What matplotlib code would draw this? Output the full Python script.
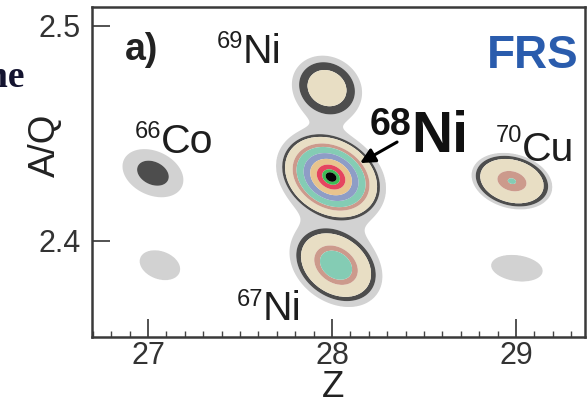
import numpy as np
import matplotlib
matplotlib.use('Agg')
import matplotlib.pyplot as plt
from matplotlib.ticker import MultipleLocator

plt.rcParams['font.family'] = ['Liberation Sans', 'DejaVu Sans']

# blobs (Z, A/Q of the centre)
names = ['66Co', '69Ni', '68Ni', '67Ni', '70Cu', '', '']
z_pos = [27.027, 27.973, 27.995, 28.022, 28.978, 27.065, 29.005]
aq_pos = [2.4315, 2.4711, 2.4297, 2.3887, 2.4278, 2.3887, 2.3873]
# outer (grey halo) semi-axes in pixels and tilt in degrees
semi_a = [32, 36, 58, 50, 41, 21, 26]
semi_b = [22, 31, 44, 37, 27, 14, 13]
tilt = [-25, -30, -30, -35, -15, -20, -8]
# relative radius where each inner colour band starts
rings = [
    [0.52],
    [0.80, 0.56],
    [0.89, 0.84, 0.70, 0.63, 0.50, 0.38, 0.26, 0.16, 0.10],
    [0.86, 0.76, 0.47, 0.35],
    [0.90, 0.79, 0.36, 0.10],
    [],
    [],
]
band_colors = ['#d2d2d2', '#4d4d4d', '#e8dec4', '#cc9a8c', '#84ccb4',
               '#8e9dc6', '#e8c48e', '#e5455f', '#3dbd55', '#050505']

x_ticks = [27, 28, 29]
y_ticks = [2.4, 2.5]


def field(ZZ, QQ, sx, sy, k=1.2, slope=3.0):
    """soft maximum of the band height of every blob"""
    total = np.zeros_like(ZZ)
    for i in range(len(z_pos)):
        du = (ZZ - z_pos[i]) * sx
        dv = (QQ - aq_pos[i]) * sy
        t = np.radians(tilt[i])
        xr = du * np.cos(t) + dv * np.sin(t)
        yr = -du * np.sin(t) + dv * np.cos(t)
        rho = np.hypot(xr / semi_a[i], yr / semi_b[i])
        depth = len(rings[i]) + 1
        xs = [0.0] + rings[i][::-1] + [1.0, 4.0]
        ys = list(range(depth, -1, -1)) + [-3 * slope]
        h = np.interp(rho, xs, ys)
        total += np.exp(k * h)
    return np.log(total) / k


fig = plt.figure(figsize=(5.88, 4.07), dpi=100)
ax = fig.add_axes([0.1565, 0.172, 0.8384, 0.8108])
ax.set_xlim(26.696, 29.375)
ax.set_ylim(2.3553, 2.5088)

bb = ax.get_window_extent()
sx = bb.width / (29.375 - 26.696)
sy = bb.height / (2.5088 - 2.3553)

zg = np.linspace(26.696, 29.375, 900)
qg = np.linspace(2.3553, 2.5088, 650)
ZZ, QQ = np.meshgrid(zg, qg)
F = field(ZZ, QQ, sx, sy)
ax.contourf(ZZ, QQ, F, levels=list(range(10)) + [11], colors=band_colors,
            antialiased=True, zorder=1)

# nuclide labels: (mass, symbol, junction offset px, symbol / mass baseline)
labels = {
    0: ('66', 'Co', 8, 20, 35),
    1: ('69', 'Ni', -84, 25, 40),
    3: ('67', 'Ni', -73, -55, -41),
    4: ('70', 'Cu', 10, 20, 39),
}
for i, (mass, sym, dx, dy_s, dy_m) in labels.items():
    ax.annotate(sym, xy=(z_pos[i], aq_pos[i]), xytext=(dx, dy_s),
                textcoords='offset pixels', ha='left', va='baseline',
                fontsize=29.5, color='#1e1e1e', zorder=5)
    ax.annotate(mass, xy=(z_pos[i], aq_pos[i]), xytext=(dx, dy_m),
                textcoords='offset pixels', ha='right', va='baseline',
                fontsize=17, color='#1e1e1e', zorder=5)

# 68Ni, bold with arrow
ax.annotate('Ni', xy=(z_pos[2], aq_pos[2]), xytext=(80, 25),
            textcoords='offset pixels', ha='left', va='baseline',
            fontsize=41, fontweight='bold', color='#111111', zorder=5)
ax.annotate('68', xy=(z_pos[2], aq_pos[2]), xytext=(80, 42),
            textcoords='offset pixels', ha='right', va='baseline',
            fontsize=27, fontweight='bold', color='#111111', zorder=5)
ax.annotate('', xy=(z_pos[2] + 29 / sx, aq_pos[2] + 14 / sy),
            xytext=(37, 21), textcoords='offset pixels',
            arrowprops=dict(arrowstyle='-|>', color='k', lw=2.2,
                            mutation_scale=22, shrinkA=0, shrinkB=0),
            zorder=6)

ax.text(0.067, 0.839, 'a)', transform=ax.transAxes, fontsize=27,
        fontweight='bold', color='#222222', va='baseline')
ax.text(0.801, 0.815, 'FRS', transform=ax.transAxes, fontsize=33,
        fontweight='bold', color='#2a5cad', va='baseline')

ax.set_xticks(x_ticks)
ax.set_yticks(y_ticks)
ax.xaxis.set_minor_locator(MultipleLocator(0.1))
ax.tick_params(which='major', direction='in', length=13, width=1.3,
               labelsize=22, color='#444444', labelcolor='#333333')
ax.tick_params(axis='x', which='major', pad=3)
ax.tick_params(axis='y', which='major', pad=8)
ax.tick_params(which='minor', direction='in', length=4, width=1.0,
               color='#444444')
ax.tick_params(axis='y', which='minor', left=False)
for sp in ax.spines.values():
    sp.set_linewidth(1.8)
    sp.set_color('#3a3a3a')

ax.set_xlabel('Z', fontsize=26.5, color='#222222')
ax.set_ylabel('A/Q', fontsize=26.5, color='#222222')
ax.xaxis.set_label_coords(0.489, -0.10)
ax.yaxis.set_label_coords(-0.06, 0.582)

# leftover of the caption text next to the figure
fig.text(25 / 588, 1 - 87 / 407, 'ne', family='Liberation Serif',
         fontweight='bold', fontsize=27, ha='right', va='baseline',
         color='#141430')

fig.savefig('out.png', dpi=100)
